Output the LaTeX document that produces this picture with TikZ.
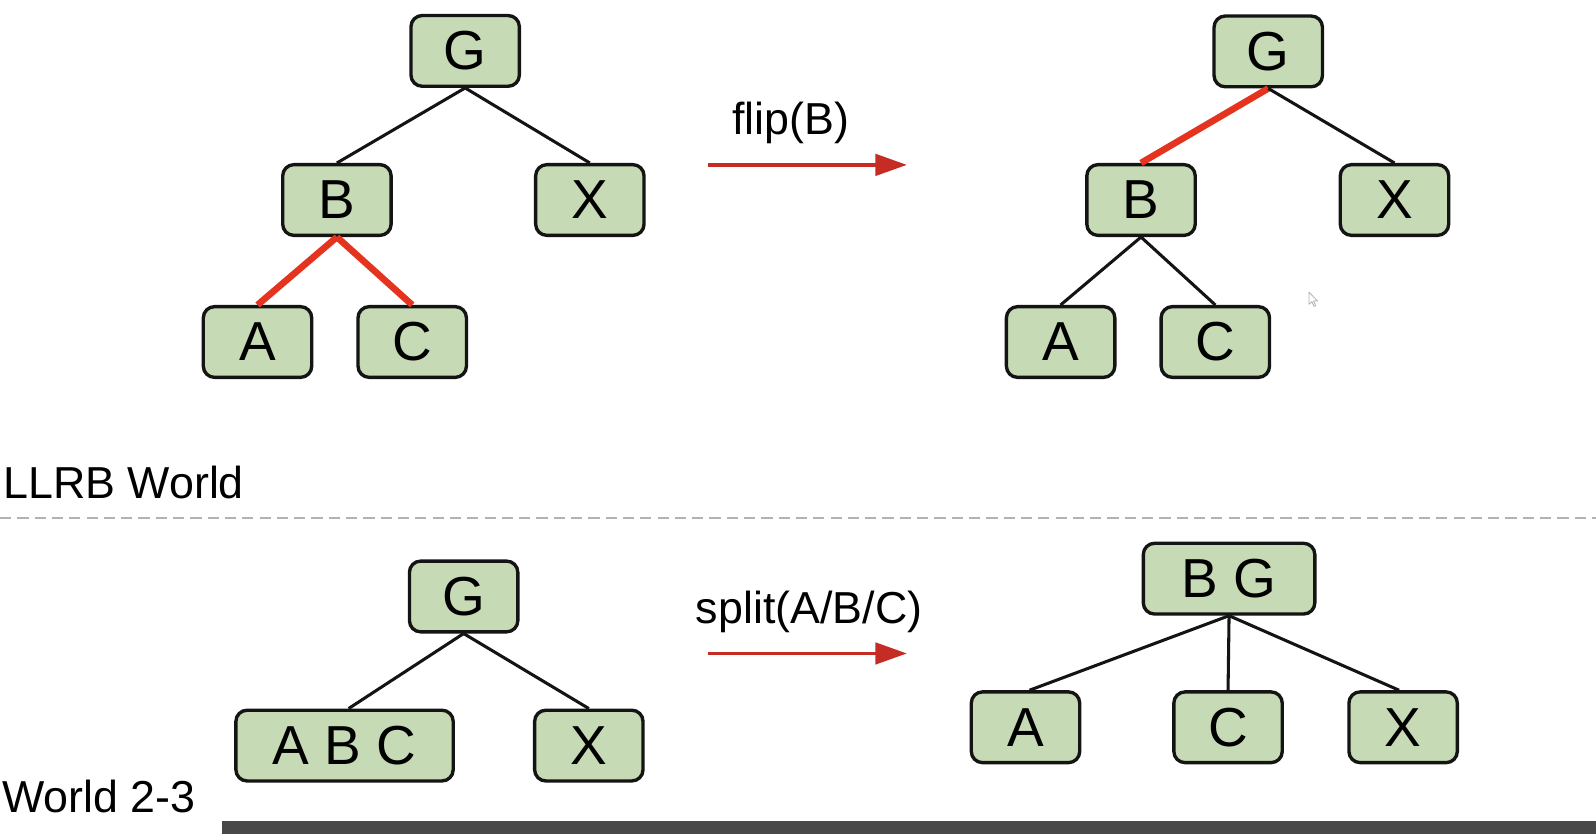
\documentclass[tikz,border=0pt]{standalone}
\usepackage{fontspec}
\setmainfont{Liberation Sans}
\usetikzlibrary{arrows.meta}
\definecolor{nodegreen}{RGB}{198,218,182}
\definecolor{edgered}{RGB}{228,52,32}
\definecolor{arrowred}{RGB}{196,44,36}
\definecolor{dashgray}{RGB}{178,178,178}
\definecolor{bargray}{RGB}{72,72,72}
\begin{document}
\begin{tikzpicture}[x=1pt,y=-1pt,
  tnode/.style={draw=black!92, line width=3.3pt, fill=nodegreen, rounded corners=11pt,
    minimum width=106.5pt, minimum height=69.5pt, inner sep=0pt,
    font=\fontsize{54}{60}\selectfont},
  tedge/.style={line width=3pt, black!92},
  redge/.style={line width=6.5pt, edgered},
  oparrow/.style={line width=3.5pt, arrowred, -{Triangle[length=31pt,width=21pt]}},
  oplabel/.style={anchor=base, inner sep=0pt, font=\fontsize{44}{50}\selectfont},
  worldlabel/.style={anchor=base west, inner sep=0pt, font=\fontsize{44}{50}\selectfont}
]
\useasboundingbox (0,0) rectangle (1568,819.4);

% ---------- top left tree ----------
\node[tnode] (g1) at (457,50) {G};
\node[tnode] (b1) at (331,196.5) {B};
\node[tnode] (x1) at (579.5,196.5) {X};
\node[tnode] (a1) at (253,336) {A};
\node[tnode] (c1) at (405,336) {C};
\draw[tedge] (g1.south) -- (b1.north);
\draw[tedge] (g1.south) -- (x1.north);
\draw[redge] (b1.south) -- (a1.north);
\draw[redge] (b1.south) -- (c1.north);

% ---------- flip arrow ----------
\coordinate (f1s) at (696,162);
\coordinate (f1e) at (891,162);
\draw[oparrow] (f1s) -- (f1e);
\node[oplabel] (flipl) at (777,132.6) {flip(B)};

% ---------- top right tree ----------
\node[tnode] (g2) at (1246,50.5) {G};
\node[tnode] (b2) at (1121,196.5) {B};
\node[tnode] (x2) at (1370,196.5) {X};
\node[tnode] (a2) at (1042,336) {A};
\node[tnode] (c2) at (1194,336) {C};
\draw[redge] (g2.south) -- (b2.north);
\draw[tedge] (g2.south) -- (x2.north);
\draw[tedge] (b2.south) -- (a2.north);
\draw[tedge] (b2.south) -- (c2.north);

% cursor
\draw[line width=0.8pt, black!30, fill=white, line join=round]
  (1286,287) -- (1286,299) -- (1288.8,296.4) -- (1291,301) -- (1292.6,300.3) -- (1290.5,295.8) -- (1294.4,295.8) -- cycle;

% ---------- separator ----------
\node[worldlabel] (llrb) at (3,490) {LLRB World};
\coordinate (dl) at (0,509);
\coordinate (dr) at (1568,509);
\draw[dashgray, line width=2.5pt, dash pattern=on 11pt off 6pt] (dl) -- (dr);

% ---------- bottom left tree ----------
\node[tnode] (g3) at (455.5,586) {G};
\node[tnode, minimum width=213.5pt] (abc) at (338.5,732.5) {A B C};
\node[tnode] (x3) at (578.5,732.5) {X};
\draw[tedge] (g3.south) -- ([xshift=4pt]abc.north);
\draw[tedge] (g3.south) -- (x3.north);

% ---------- split arrow ----------
\coordinate (f2s) at (696,642);
\coordinate (f2e) at (891,642);
\draw[oparrow] (f2s) -- (f2e);
\node[oplabel] (splitl) at (795,613) {split(A/B/C)};

% ---------- bottom right tree ----------
\node[tnode, minimum width=168.5pt] (bg) at (1207.5,568.5) {B G};
\node[tnode] (a4) at (1007.5,714.5) {A};
\node[tnode] (c4) at (1206.5,714.5) {C};
\node[tnode] (x4) at (1378.5,714.5) {X};
\draw[tedge] (bg.south) -- ([xshift=4pt]a4.north);
\draw[tedge] (bg.south) -- (c4.north);
\draw[tedge] (bg.south) -- ([xshift=-4pt]x4.north);

\node[worldlabel] (w23) at (2,798) {World 2-3};

% ---------- dark bar at bottom ----------
\fill[bargray] (218,806.6) rectangle (1568,819.4);
\end{tikzpicture}
\end{document}
